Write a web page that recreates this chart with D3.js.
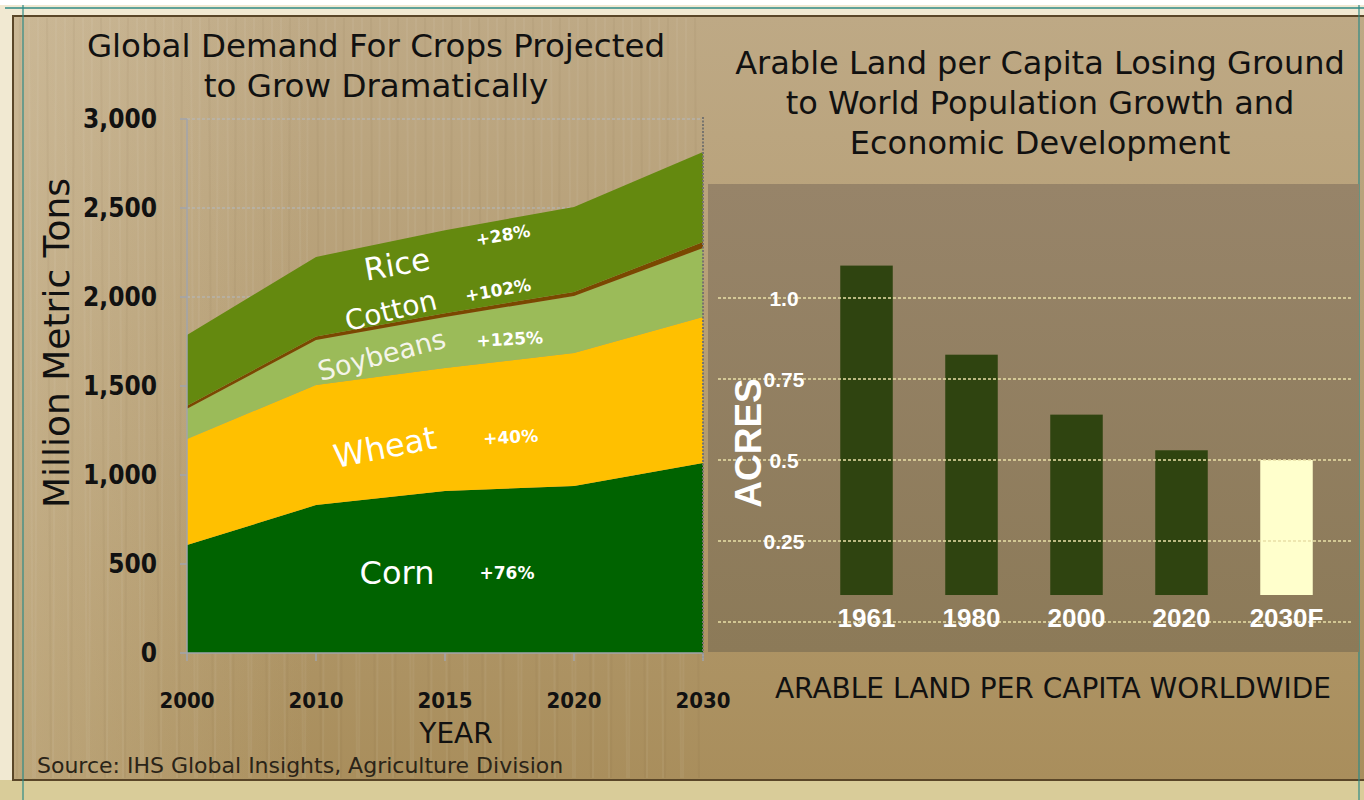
<!DOCTYPE html>
<html>
<head>
<meta charset="utf-8">
<script src="https://cdn.jsdelivr.net/npm/d3@7"></script>
<style>
  body { margin: 0; background: #fff; }
  svg { display: block; }
  .tah { font-family: "DejaVu Sans", sans-serif; }
  .tahc { font-family: "DejaVu Sans Condensed", "DejaVu Sans", sans-serif; font-weight: bold; }
  .ari { font-family: "Liberation Sans", Arial, sans-serif; font-weight: bold; }
</style>
</head>
<body>
<svg id="chart"></svg>
<script>
// left chart: global crop demand (million metric tons, stacked)
const years = ["2000", "2010", "2015", "2020", "2030"];
const crops = ["Corn", "Wheat", "Soybeans", "Cotton", "Rice"];
const corn = [607, 831, 910, 938, 1067];
const wheat = [595, 675, 691, 747, 821];
const soybeans = [170, 252, 287, 321, 387];
const cotton = [17, 20, 21, 22, 34];
const rice = [398, 447, 466, 478, 506];
const growth = ["+76%", "+40%", "+125%", "+102%", "+28%"];
const yTicks = [0, 500, 1000, 1500, 2000, 2500, 3000];

// right chart: arable land per capita (acres)
const landYears = ["1961", "1980", "2000", "2020", "2030F"];
const acres = [1.1, 0.825, 0.64, 0.53, 0.5];
const acreTicks = [0.25, 0.5, 0.75, 1.0];
const acreTickLabels = ["0.25", "0.5", "0.75", "1.0"];

const width = 1364, height = 800;
const svg = d3.select("#chart").attr("width", width).attr("height", height);

// ---- page background
const defs = svg.append("defs");
const bg = defs.append("linearGradient").attr("id", "bg").attr("x1", 0).attr("y1", 0).attr("x2", 0).attr("y2", 1);
bg.append("stop").attr("offset", "0%").attr("stop-color", "#bea985");
bg.append("stop").attr("offset", "55%").attr("stop-color", "#b39b70");
bg.append("stop").attr("offset", "100%").attr("stop-color", "#a98e5c");
const side = defs.append("linearGradient").attr("id", "side").attr("x1", 0).attr("y1", 0).attr("x2", 1).attr("y2", 0);
side.append("stop").attr("offset", "0%").attr("stop-color", "#e2d3b4").attr("stop-opacity", 0.35);
side.append("stop").attr("offset", "100%").attr("stop-color", "#e2d3b4").attr("stop-opacity", 0);
const box = defs.append("linearGradient").attr("id", "box").attr("x1", 0).attr("y1", 0).attr("x2", 0).attr("y2", 1);
box.append("stop").attr("offset", "0%").attr("stop-color", "#978469");
box.append("stop").attr("offset", "100%").attr("stop-color", "#8c7a58");

svg.append("rect").attr("width", width).attr("height", height).attr("fill", "#f1e9d2");
svg.append("rect").attr("width", width).attr("height", 5).attr("fill", "#fff");
svg.append("rect").attr("y", 780).attr("width", width).attr("height", 20).attr("fill", "#d9cc99");
svg.append("rect").attr("x", 13).attr("y", 16).attr("width", width).attr("height", 764)
  .attr("fill", "url(#bg)").attr("stroke", "#5a4628").attr("stroke-width", 2);
svg.append("rect").attr("x", 14).attr("y", 17).attr("width", 300).attr("height", 762).attr("fill", "url(#side)");
// faint wood grain
const grain = d3.range(20, 700, 9);
svg.append("g").attr("opacity", 0.05)
  .selectAll("line").data(grain).join("line")
  .attr("x1", d => d).attr("x2", (d, i) => d + (i % 2 ? 4 : -3))
  .attr("y1", 18).attr("y2", 778)
  .attr("stroke", (d, i) => i % 3 ? "#fff" : "#6b5230").attr("stroke-width", 2);

// teal guide lines
svg.append("line").attr("x1", 5).attr("x2", width).attr("y1", 8).attr("y2", 8).attr("stroke", "#2e8a86").attr("stroke-width", 1.5);
svg.append("line").attr("x1", 23).attr("x2", 23).attr("y1", 5).attr("y2", height).attr("stroke", "#2e8a86").attr("stroke-width", 1.2);
svg.append("line").attr("x1", 1359).attr("x2", 1359).attr("y1", 5).attr("y2", height).attr("stroke", "#2e8a86").attr("stroke-width", 1.2);

// ---- left chart
const x = d3.scalePoint().domain(years).range([187, 703]);
const y = d3.scaleLinear().domain([0, 3000]).range([653, 119]);

const table = years.map((yr, i) => ({
  year: yr, Corn: corn[i], Wheat: wheat[i], Soybeans: soybeans[i], Cotton: cotton[i], Rice: rice[i]
}));
const series = d3.stack().keys(crops)(table);
const color = d3.scaleOrdinal().domain(crops)
  .range(["#006300", "#ffc000", "#9bbb59", "#7a4800", "#64890f"]);

// gridlines
svg.append("g").selectAll("line").data(yTicks.slice(1)).join("line")
  .attr("x1", 187).attr("x2", 703).attr("y1", y).attr("y2", y)
  .attr("stroke", "#b4b9c2").attr("stroke-width", 1.2).attr("stroke-dasharray", "3,2");

const area = d3.area()
  .x(d => x(d.data.year))
  .y0(d => y(d[0]))
  .y1(d => y(d[1]));

svg.append("g").selectAll("path").data(series).join("path")
  .attr("fill", d => color(d.key))
  .attr("d", area);

// axes
svg.append("line").attr("x1", 187).attr("x2", 187).attr("y1", 119).attr("y2", 653).attr("stroke", "#a2a4ab").attr("stroke-width", 1.5);
svg.append("line").attr("x1", 187).attr("x2", 703).attr("y1", 653).attr("y2", 653).attr("stroke", "#a2a4ab").attr("stroke-width", 1.5);
svg.append("line").attr("x1", 703).attr("x2", 703).attr("y1", 117).attr("y2", 660)
  .attr("stroke", "#77746e").attr("stroke-width", 2).attr("stroke-dasharray", "2,1.5");

svg.append("g").selectAll("line").data(yTicks).join("line")
  .attr("x1", 180).attr("x2", 187).attr("y1", y).attr("y2", y).attr("stroke", "#a2a4ab").attr("stroke-width", 1.5);
svg.append("g").selectAll("line").data(years).join("line")
  .attr("x1", x).attr("x2", x).attr("y1", 653).attr("y2", 661).attr("stroke", "#a2a4ab").attr("stroke-width", 1.5);

svg.append("g").attr("class", "tahc").attr("text-anchor", "end")
  .selectAll("text").data(yTicks).join("text")
  .attr("x", 157).attr("y", d => y(d)).attr("dy", "0.36em")
  .attr("font-size", 26).attr("fill", "#111")
  .text(d3.format(","));

svg.append("g").attr("class", "tahc").attr("text-anchor", "middle")
  .selectAll("text").data(years).join("text")
  .attr("x", x).attr("y", 708)
  .attr("font-size", 22).attr("fill", "#111")
  .text(d => d);

svg.append("text").attr("class", "tah").attr("text-anchor", "middle")
  .attr("transform", "translate(69,343) rotate(-90)")
  .attr("font-size", 36).attr("fill", "#111").text("Million Metric Tons");
svg.append("text").attr("class", "tah").attr("text-anchor", "middle")
  .attr("x", 456).attr("y", 743).attr("font-size", 28).attr("fill", "#111").text("YEAR");
svg.append("text").attr("class", "tah")
  .attr("x", 37).attr("y", 773).attr("font-size", 22).attr("fill", "#2a2418")
  .text("Source:  IHS Global Insights, Agriculture Division");

svg.append("g").attr("class", "tah").attr("text-anchor", "middle").attr("font-size", 32.5).attr("fill", "#111")
  .selectAll("text").data(["Global Demand For Crops Projected", "to Grow Dramatically"]).join("text")
  .attr("x", 376).attr("y", (d, i) => 57 + i * 40).text(d => d);

// in-area labels: [name x, y, rotate, size, pct x, y, rotate]
const cropLabelPos = {
  Corn: [397, 584, 0, 32, 507, 579, 0],
  Wheat: [387, 458, -11, 32, 511, 443, -3],
  Soybeans: [384, 364, -15, 27, 510, 345, -3],
  Cotton: [393, 320, -14, 28, 499, 296, -10],
  Rice: [399, 275, -10, 31, 504, 241, -10]
};
const labels = svg.append("g").attr("class", "tah").attr("fill", "#fff").attr("text-anchor", "middle");
crops.forEach((c, i) => {
  const p = cropLabelPos[c];
  labels.append("text").attr("transform", `translate(${p[0]},${p[1]}) rotate(${p[2]})`)
    .attr("font-size", p[3]).attr("fill", c === "Soybeans" ? "#f4f4ea" : "#fff").text(c);
  labels.append("text").attr("transform", `translate(${p[4]},${p[5]}) rotate(${p[6]})`)
    .attr("font-size", 17).attr("font-weight", "bold").text(growth[i]);
});

// ---- right chart
svg.append("rect").attr("x", 708).attr("y", 184).attr("width", 651).attr("height", 468).attr("fill", "url(#box)");

svg.append("g").attr("class", "tah").attr("text-anchor", "middle").attr("font-size", 32).attr("fill", "#111")
  .selectAll("text").data(["Arable Land per Capita Losing Ground", "to World Population Growth and", "Economic Development"]).join("text")
  .attr("x", 1040).attr("y", (d, i) => 74 + i * 40).text(d => d);

const bx = d3.scaleBand().domain(landYears).range([814, 1339]).paddingInner(0.5).paddingOuter(0.25);
const by = d3.scaleLinear().domain([0, 1]).range([622, 298]);
const barBottom = by(0) - 27;

svg.append("g").selectAll("rect").data(acres).join("rect")
  .attr("x", (d, i) => bx(landYears[i]))
  .attr("y", d => by(d))
  .attr("width", bx.bandwidth())
  .attr("height", d => barBottom - by(d))
  .attr("fill", (d, i) => i === acres.length - 1 ? "#ffffcc" : "#2f4410");

svg.append("g").selectAll("line").data([0].concat(acreTicks)).join("line")
  .attr("x1", 718).attr("x2", 1352).attr("y1", by).attr("y2", by)
  .attr("stroke", "#e9dfa6").attr("stroke-width", 1.5).attr("stroke-dasharray", "3,2");

svg.append("g").attr("class", "ari").attr("text-anchor", "middle").attr("fill", "#fff")
  .selectAll("text").data(acreTicks).join("text")
  .attr("x", 784).attr("y", by).attr("dy", "0.36em").attr("font-size", 21)
  .text((d, i) => acreTickLabels[i]);

svg.append("g").attr("class", "ari").attr("text-anchor", "middle").attr("fill", "#fff")
  .selectAll("text").data(landYears).join("text")
  .attr("x", d => bx(d) + bx.bandwidth() / 2).attr("y", 627).attr("font-size", 26)
  .text(d => d);

svg.append("text").attr("class", "ari").attr("text-anchor", "middle")
  .attr("transform", "translate(761,443) rotate(-90)")
  .attr("font-size", 37).attr("fill", "#fff").text("ACRES");

svg.append("text").attr("class", "tah").attr("text-anchor", "middle")
  .attr("x", 1053).attr("y", 698).attr("font-size", 28).attr("fill", "#111")
  .text("ARABLE LAND PER CAPITA WORLDWIDE");
</script>
</body>
</html>
